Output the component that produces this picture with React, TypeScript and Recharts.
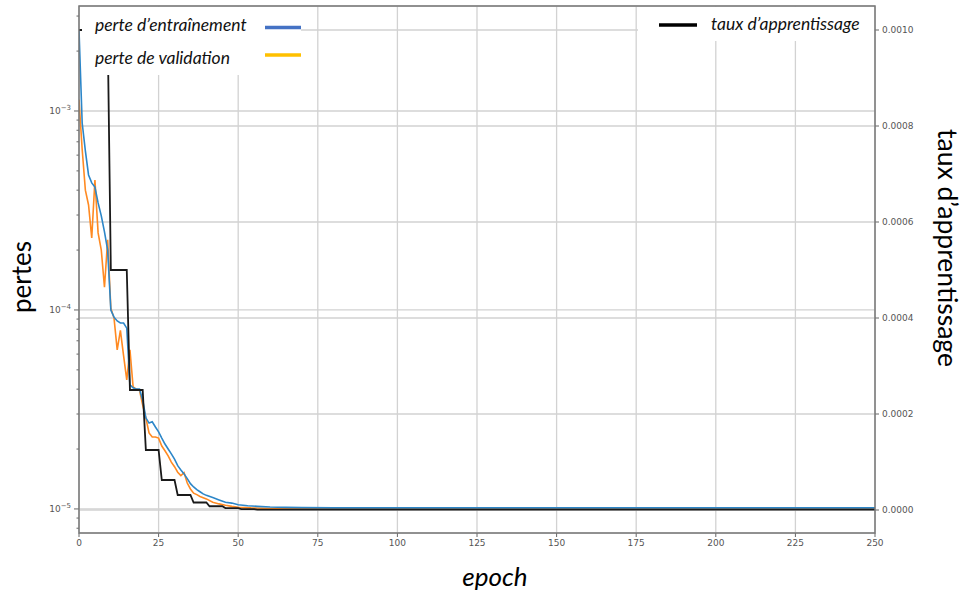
import { LineChart, Line, XAxis, YAxis, CartesianGrid } from "recharts";

// training loss (log scale, left axis)
const trainEpochs = [0, 1, 2, 3, 4, 5, 6, 7, 8, 9, 10, 11, 12, 13, 14, 15, 16, 17, 18, 19, 20, 21, 22, 23, 24, 25, 26, 27, 28, 29, 30, 31, 32, 33, 34, 35, 36, 37, 38, 39, 40, 42, 44, 46, 48, 50, 53, 56, 60, 65, 70, 80, 250];
const trainLoss = [2.55e-3, 8.7e-4, 6.3e-4, 4.77e-4, 4.35e-4, 4.15e-4, 3.45e-4, 2.97e-4, 2.47e-4, 2.0e-4, 1.0e-4, 9.2e-5, 8.8e-5, 8.6e-5, 8.6e-5, 8.1e-5, 4.2e-5, 4.06e-5, 4.0e-5, 4.0e-5, 3.53e-5, 2.87e-5, 2.7e-5, 2.74e-5, 2.58e-5, 2.44e-5, 2.27e-5, 2.12e-5, 2.0e-5, 1.89e-5, 1.78e-5, 1.65e-5, 1.57e-5, 1.5e-5, 1.42e-5, 1.34e-5, 1.29e-5, 1.25e-5, 1.22e-5, 1.19e-5, 1.17e-5, 1.14e-5, 1.11e-5, 1.08e-5, 1.07e-5, 1.05e-5, 1.038e-5, 1.03e-5, 1.022e-5, 1.018e-5, 1.015e-5, 1.013e-5, 1.013e-5];

// validation loss
const valEpochs = [0, 1, 2, 3, 4, 5, 6, 7, 8, 9, 10, 11, 12, 13, 14, 15, 16, 17, 18, 19, 20, 21, 22, 23, 24, 25, 26, 27, 28, 29, 30, 31, 32, 33, 34, 35, 36, 37, 38, 40, 42, 44, 46, 48, 50, 54, 60, 70, 250];
const valLoss = [1.14e-3, 6.4e-4, 4.0e-4, 3.37e-4, 2.3e-4, 4.5e-4, 2.44e-4, 2.0e-4, 1.3e-4, 2.25e-4, 1.02e-4, 9.1e-5, 6.3e-5, 7.9e-5, 5.9e-5, 4.45e-5, 6.3e-5, 4.1e-5, 4.0e-5, 3.96e-5, 3.33e-5, 2.87e-5, 2.41e-5, 2.3e-5, 2.3e-5, 2.27e-5, 2.07e-5, 1.96e-5, 1.85e-5, 1.72e-5, 1.63e-5, 1.53e-5, 1.47e-5, 1.52e-5, 1.35e-5, 1.26e-5, 1.2e-5, 1.18e-5, 1.156e-5, 1.123e-5, 1.08e-5, 1.06e-5, 1.044e-5, 1.03e-5, 1.02e-5, 1.012e-5, 1.006e-5, 1.002e-5, 1.002e-5];

// learning rate (linear, right axis)
const lrEpochs = [0, 9, 10, 15, 16, 20, 21, 25, 26, 30, 31, 35, 36, 40, 41, 45, 46, 50, 51, 55, 56, 250];
const lrValues = [0.001, 0.001, 0.0005, 0.0005, 0.00025, 0.00025, 0.000125, 0.000125, 0.0000625, 0.0000625, 0.00003125, 0.00003125, 0.0000156, 0.0000156, 0.0000078, 0.0000078, 0.0000039, 0.0000039, 0.000002, 0.000002, 0.000001, 0.000001];

const epochTicks = [0, 25, 50, 75, 100, 125, 150, 175, 200, 225, 250];
const lossMajorTicks = [1e-5, 1e-4, 1e-3];
const lossMinorTicks = [8e-6, 9e-6, 2e-5, 3e-5, 4e-5, 5e-5, 6e-5, 7e-5, 8e-5, 9e-5, 2e-4, 3e-4, 4e-4, 5e-4, 6e-4, 7e-4, 8e-4, 9e-4, 2e-3, 3e-3];
const lrTicks = [0, 0.0002, 0.0004, 0.0006, 0.0008, 0.001];

const trainData = trainEpochs.map((e, i) => ({ epoch: e, loss: trainLoss[i] }));
const valData = valEpochs.map((e, i) => ({ epoch: e, loss: valLoss[i] }));
const lrData = lrEpochs.map((e, i) => ({ epoch: e, lr: lrValues[i] }));

const TICK_COLOR = "#555";
const GRID = "#d2d2d2";
const FONT = "Lato, 'Open Sans', sans-serif";

const LossTick = (props: any) => {
  const { x, y, payload } = props;
  const v = payload.value;
  if (!lossMajorTicks.includes(v)) {
    return <line x1={x - 2.5} x2={x} y1={y} y2={y} stroke="#666" strokeWidth={1} />;
  }
  const exp = Math.round(Math.log10(v));
  return (
    <g>
      <line x1={x - 5} x2={x} y1={y} y2={y} stroke="#666" strokeWidth={1} />
      <text x={x - 8} y={y + 3} textAnchor="end" fontSize={9} fill={TICK_COLOR} fontFamily="DejaVu Sans">
        10
        <tspan dy={-4} fontSize={7}>{"\u2212" + Math.abs(exp)}</tspan>
      </text>
    </g>
  );
};

export default function App() {
  return (
    <div style={{ position: "absolute", left: 0, top: 0, width: 963, height: 593, background: "#fff" }}>
      <LineChart width={963} height={593} margin={{ top: 6, right: 28, bottom: 30, left: 29 }}>
        <CartesianGrid yAxisId="left" horizontal={false} stroke={GRID} strokeWidth={1.3} />
        <CartesianGrid yAxisId="left" vertical={false} horizontalValues={lossMajorTicks} stroke={GRID} strokeWidth={1.3} />
        <CartesianGrid yAxisId="right" vertical={false} stroke={GRID} strokeWidth={1.3} />
        <XAxis
          dataKey="epoch"
          type="number"
          domain={[0, 250]}
          ticks={epochTicks}
          allowDataOverflow
          height={30}
          axisLine={false}
          tickSize={4}
          tickMargin={3}
          tickLine={{ stroke: "#666" }}
          tick={{ fontSize: 9, fill: TICK_COLOR, fontFamily: "DejaVu Sans" }}
        />
        <YAxis
          yAxisId="left"
          scale="log"
          domain={[7.57e-6, 3.37e-3]}
          allowDataOverflow
          ticks={[...lossMajorTicks, ...lossMinorTicks]}
          width={50}
          axisLine={false}
          tickLine={false}
          tickSize={0}
          tickMargin={0}
          tick={<LossTick />}
          interval={0}
        />
        <YAxis
          yAxisId="right"
          orientation="right"
          domain={[-0.0000479, 0.00105]}
          allowDataOverflow
          ticks={lrTicks}
          width={60}
          axisLine={false}
          tickSize={4}
          tickMargin={3}
          tickLine={{ stroke: "#666" }}
          tickFormatter={(v: number) => v.toFixed(4)}
          tick={{ fontSize: 9, fill: TICK_COLOR, fontFamily: "DejaVu Sans", textAnchor: "start" }}
          interval={0}
        />
        <Line yAxisId="left" data={valData} dataKey="loss" type="linear" stroke="#ff8a22" strokeWidth={1.6} dot={false} isAnimationActive={false} />
        <Line yAxisId="left" data={trainData} dataKey="loss" type="linear" stroke="#2c86c8" strokeWidth={1.6} dot={false} isAnimationActive={false} />
        <Line yAxisId="right" data={lrData} dataKey="lr" type="linear" stroke="#1a1a1a" strokeWidth={1.8} dot={false} isAnimationActive={false} />
      </LineChart>

      <svg width={963} height={593} style={{ position: "absolute", left: 0, top: 0, pointerEvents: "none" }}>
        {/* legend boxes */}
        <rect x={82} y={7} width={219} height={68} fill="#fff" />
        <rect x={638} y={7} width={236} height={34} fill="#fff" />
        <text x={95} y={31} fontFamily={FONT} fontStyle="italic" fontSize={17.5} fill="#111">perte d’entraînement</text>
        <line x1={265} x2={301} y1={27.5} y2={27.5} stroke="#4472C4" strokeWidth={3.5} />
        <text x={95} y={64} fontFamily={FONT} fontStyle="italic" fontSize={17.5} fill="#111">perte de validation</text>
        <line x1={265} x2={301} y1={55} y2={55} stroke="#FFC000" strokeWidth={3.5} />
        <line x1={659} x2={697} y1={25} y2={25} stroke="#000" strokeWidth={3.5} />
        <text x={711} y={30} fontFamily={FONT} fontStyle="italic" fontSize={17.5} fill="#111">taux d’apprentissage</text>
        {/* frame */}
        <rect x={79} y={6} width={796} height={527} fill="none" stroke="#777" strokeWidth={1.5} />
        {/* axis titles */}
        <text x={0} y={0} transform="translate(31,277) rotate(-90)" textAnchor="middle" fontFamily={FONT} fontSize={26} fill="#000">pertes</text>
        <text x={0} y={0} transform="translate(938,248) rotate(90)" textAnchor="middle" fontFamily={FONT} fontSize={26.5} fill="#000">taux d’apprentissage</text>
        <text x={495} y={586} textAnchor="middle" fontFamily={FONT} fontStyle="italic" fontSize={26} fill="#000">epoch</text>
      </svg>
    </div>
  );
}
